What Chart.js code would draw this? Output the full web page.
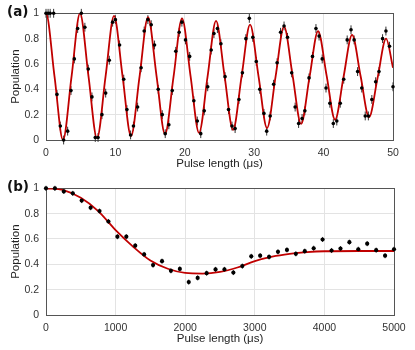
<!DOCTYPE html>
<html>
<head>
<meta charset="utf-8">
<script src="https://cdn.jsdelivr.net/npm/chart.js@4.4.1/dist/chart.umd.min.js"></script>
<style>
  html, body { margin: 0; padding: 0; background: #fff; }
  #wrap { position: relative; width: 415px; height: 350px; }
  .panel { position: absolute; left: 0; width: 415px; height: 175px; }
  .tag { position: absolute; left: 7px; font: bold 13.5px "DejaVu Sans", sans-serif; color: #111; }
</style>
</head>
<body>
<div id="wrap">
  <div class="panel" style="top:0"><canvas id="chartA" width="415" height="175"></canvas></div>
  <div class="panel" style="top:175px"><canvas id="chartB" width="415" height="175"></canvas></div>
  <span class="tag" style="top:3px">(a)</span>
  <span class="tag" style="top:178px">(b)</span>
</div>
<script>
// (a) Rabi oscillation: measured points
const tA = [0, 0.3, 0.6, 1.1, 1.58, 2.06, 2.54, 3.12, 3.6, 4.08,
  4.56, 5.09, 5.6, 6.09, 6.62, 7.1, 7.5, 8.06, 8.6, 9.12,
  9.6, 10.0, 10.6, 11.2, 11.66, 12.19, 12.6, 13.2, 13.7, 14.15,
  14.68, 15.16, 15.64, 16.17, 16.75, 17.18, 17.7, 18.19, 18.7, 19.19,
  19.58, 20.1, 20.7, 21.3, 21.8, 22.3, 22.8, 23.3, 23.8, 24.2,
  24.7, 25.2, 25.8, 26.3, 26.8, 27.25, 27.8, 28.3, 28.8, 29.3,
  29.8, 30.3, 30.8, 31.4, 31.8, 32.3, 32.8, 33.3, 33.8, 34.3,
  34.8, 35.4, 35.9, 36.4, 36.9, 37.3, 37.9, 38.4, 38.9, 39.35,
  39.8, 40.35, 40.9, 41.4, 41.9, 42.4, 42.9, 43.4, 43.95, 44.4,
  44.9, 45.5, 46.0, 46.45, 46.95, 47.5, 47.98, 48.5, 48.98, 49.5,
  50.0];
const popA = [1, 1, 1, 1, 0.36, 0.11, 0.0, 0.07, 0.39, 0.64,
  0.88, 1.0, 0.89, 0.56, 0.34, 0.02, 0.02, 0.2, 0.37, 0.63,
  0.93, 0.95, 0.75, 0.48, 0.24, 0.04, 0.11, 0.26, 0.57, 0.86,
  0.95, 0.91, 0.75, 0.40, 0.2, 0.05, 0.12, 0.39, 0.70, 0.85,
  0.93, 0.79, 0.66, 0.31, 0.15, 0.05, 0.23, 0.42, 0.71, 0.84,
  0.88, 0.76, 0.50, 0.24, 0.11, 0.09, 0.32, 0.53, 0.80, 0.96,
  0.81, 0.62, 0.40, 0.21, 0.07, 0.19, 0.44, 0.61, 0.85, 0.90,
  0.81, 0.53, 0.26, 0.13, 0.17, 0.23, 0.49, 0.66, 0.88, 0.82,
  0.64, 0.41, 0.29, 0.13, 0.15, 0.29, 0.48, 0.79, 0.87, 0.79,
  0.54, 0.41, 0.19, 0.19, 0.32, 0.46, 0.54, 0.80, 0.86, 0.74,
  0.42];
const errA = 0.035;

// (a) fit curve, read at peaks, troughs and crossings
// (first point lies left of the axis so the curve starts flat at t = 0)
const fitTA = [-1.23, 0, 1.23, 2.45, 3.68, 4.9, 6.13, 7.35, 8.58, 9.8, 11.03,
  12.25, 13.48, 14.7, 15.93, 17.15, 18.38, 19.6, 20.83, 22.05, 23.28,
  24.5, 25.73, 26.95, 28.18, 29.4, 30.63, 31.85, 33.08, 34.3, 35.53,
  36.75, 37.98, 39.2, 40.43, 41.65, 42.88, 44.1, 45.33, 46.55, 47.78,
  49.0, 50];
const fitPopA = [0.5, 1, 0.5, 0, 0.5, 1, 0.5, 0.013, 0.5, 0.98, 0.505,
  0.03, 0.5, 0.97, 0.505, 0.046, 0.5, 0.96, 0.505, 0.056, 0.5,
  0.94, 0.505, 0.08, 0.5, 0.91, 0.5, 0.094, 0.5, 0.895, 0.51,
  0.127, 0.5, 0.86, 0.51, 0.16, 0.5, 0.83, 0.505, 0.18, 0.49,
  0.80, 0.57];

// (b) long pulses: measured points
const tB = [0, 128, 256, 385, 513, 641, 769, 897, 1026, 1154,
  1282, 1410, 1538, 1667, 1795, 1923, 2051, 2179, 2308, 2436,
  2564, 2692, 2821, 2949, 3077, 3205, 3333, 3462, 3590, 3718,
  3846, 3974, 4103, 4231, 4359, 4487, 4615, 4744, 4872, 5000];
const popB = [1.0, 1.0, 0.975, 0.96, 0.903, 0.847, 0.82, 0.738, 0.618, 0.618,
  0.547, 0.478, 0.394, 0.425, 0.349, 0.364, 0.26, 0.293, 0.33, 0.36,
  0.36, 0.335, 0.386, 0.463, 0.468, 0.458, 0.499, 0.514, 0.483, 0.504,
  0.527, 0.596, 0.509, 0.524, 0.575, 0.519, 0.563, 0.512, 0.468, 0.519];
const errB = 0.02;

// (b) fit curve
const fitTB = [0, 250, 500, 750, 1000, 1250, 1500, 1750, 2000, 2250,
  2500, 2750, 3000, 3250, 3500, 3750, 4000, 4500, 5000];
const fitPopB = [1.0, 0.985, 0.925, 0.82, 0.67, 0.54, 0.43, 0.365, 0.332, 0.327,
  0.34, 0.375, 0.425, 0.46, 0.482, 0.496, 0.503, 0.505, 0.505];

const xTicksA = [0, 10, 20, 30, 40, 50];
const xTicksB = [0, 1000, 2000, 3000, 4000, 5000];
const yTicks = [0, 0.2, 0.4, 0.6, 0.8, 1];

const fitRed = '#c00000';
const tickFont = { family: 'Liberation Sans, Arial, sans-serif', size: 10.5 };
const titleFont = { family: 'Liberation Sans, Arial, sans-serif', size: 11.5 };

const zip = (xs, ys) => xs.map((x, i) => ({ x: x, y: ys[i] }));

// box around the plot area and vertical error bars under the dots
const boxAndErrors = {
    id: 'boxAndErrors',
    beforeDatasetsDraw(chart, args, opts) {
        const { ctx, chartArea: a, scales: { x, y } } = chart;
        ctx.save();
        ctx.strokeStyle = '#555';
        ctx.lineWidth = 1;
        ctx.strokeRect(Math.round(a.left) + 0.5, Math.round(a.top) + 0.5,
            Math.round(a.right - a.left), Math.round(a.bottom - a.top));
        ctx.strokeStyle = '#333';
        chart.data.datasets[0].data.forEach(p => {
            const px = x.getPixelForValue(p.x);
            ctx.beginPath();
            ctx.moveTo(px, y.getPixelForValue(p.y - opts.err));
            ctx.lineTo(px, y.getPixelForValue(p.y + opts.err));
            ctx.stroke();
        });
        ctx.restore();
    }
};

function makeChart(id, pts, fit, xMax, xTicks, err, pad, dotR) {
    return new Chart(document.getElementById(id), {
        type: 'scatter',
        data: {
            datasets: [{
                data: pts,
                showLine: false,
                pointRadius: dotR,
                pointBackgroundColor: '#000',
                pointBorderWidth: 0,
                clip: false,
                order: 0
            }, {
                data: fit,
                showLine: true,
                borderColor: fitRed,
                borderWidth: 1.8,
                pointRadius: 0,
                cubicInterpolationMode: 'monotone',
                order: 1
            }]
        },
        options: {
            responsive: false,
            animation: false,
            layout: { padding: pad },
            plugins: {
                legend: { display: false },
                tooltip: { enabled: false },
                boxAndErrors: { err: err }
            },
            scales: {
                x: {
                    type: 'linear',
                    min: 0,
                    max: xMax,
                    afterFit: s => { s.height = 35; },
                    afterBuildTicks: s => { s.ticks = xTicks.map(v => ({ value: v })); },
                    grid: { color: '#e3e3e3', drawTicks: false },
                    border: { display: false },
                    ticks: {
                        padding: 7,
                        color: '#333',
                        font: tickFont,
                        maxRotation: 0,
                        callback: v => String(v)
                    },
                    title: {
                        display: true,
                        text: 'Pulse length (μs)',
                        color: '#222',
                        font: titleFont,
                        padding: { top: 0, bottom: 4 }
                    }
                },
                y: {
                    min: 0,
                    max: 1,
                    afterFit: s => { s.width = 46; },
                    afterBuildTicks: s => { s.ticks = yTicks.map(v => ({ value: v })); },
                    grid: { color: '#e3e3e3', drawTicks: false },
                    border: { display: false },
                    ticks: {
                        padding: 7,
                        color: '#333',
                        font: tickFont,
                        callback: v => String(Math.round(v * 10) / 10)
                    },
                    title: {
                        display: true,
                        text: 'Population',
                        color: '#222',
                        font: titleFont,
                        padding: { top: 9, bottom: 0 }
                    }
                }
            }
        },
        plugins: [boxAndErrors]
    });
}

makeChart('chartA', zip(tA, popA), zip(fitTA, fitPopA), 50, xTicksA, errA,
    { top: 9, right: 22, bottom: 0, left: 0 }, 1.8);
makeChart('chartB', zip(tB, popB), zip(fitTB, fitPopB), 5000, xTicksB, errB,
    { top: 9, right: 21, bottom: 0, left: 0 }, 2.1);
</script>
</body>
</html>
